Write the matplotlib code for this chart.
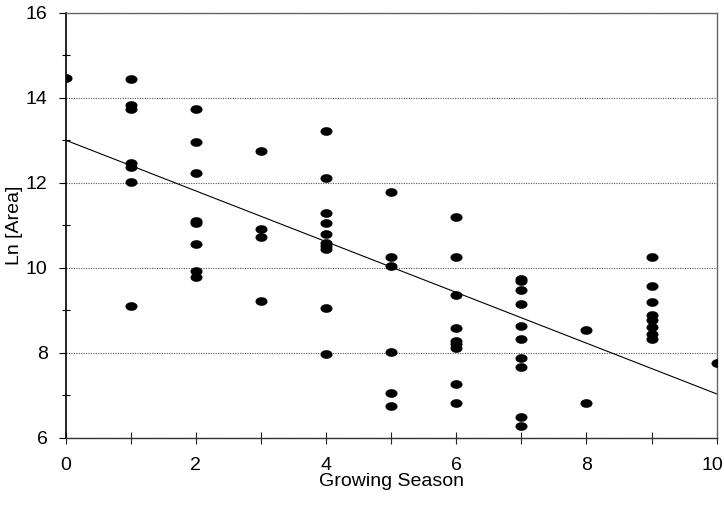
"""Ln[Area] vs growing season scatter with linear trend."""

import numpy as np
import matplotlib

matplotlib.use("Agg")
import matplotlib.pyplot as plt
from matplotlib.ticker import FixedLocator, FuncFormatter
from matplotlib.transforms import ScaledTranslation

# values
season_0 = [14.46]
season_1 = [14.45, 13.83, 13.73, 12.47, 12.38, 12.02, 9.11]
season_2 = [13.73, 12.95, 12.23, 11.10, 11.06, 10.55, 9.92, 9.77]
season_3 = [12.75, 10.90, 10.72, 9.21]
season_4 = [13.22, 12.12, 11.29, 11.04, 10.79, 10.57, 10.52, 10.45, 9.04, 7.97]
season_5 = [11.77, 10.25, 10.05, 8.01, 7.04, 6.75]
season_6 = [11.20, 10.25, 9.36, 8.58, 8.28, 8.20, 8.10, 7.26, 6.82]
season_7 = [9.74, 9.68, 9.48, 9.14, 8.63, 8.32, 7.88, 7.67, 6.49, 6.28]
season_8 = [8.53, 6.82]
season_9 = [10.25, 9.58, 9.19, 8.88, 8.77, 8.61, 8.43, 8.33]
season_10 = [7.76]

seasons = [season_0, season_1, season_2, season_3, season_4, season_5,
           season_6, season_7, season_8, season_9, season_10]

trend_x = [0, 10]
trend_y = [13.0, 7.03]


def main() -> int:
    plt.rcParams["font.family"] = ["Liberation Sans", "DejaVu Sans"]

    xs = []
    ys = []
    for season, vals in enumerate(seasons):
        xs.extend([season] * len(vals))
        ys.extend(vals)

    # slightly flattened dot, like the original plot symbols
    t = np.linspace(0, 2 * np.pi, 40)
    ellipse = np.column_stack([np.cos(t), 0.72 * np.sin(t)])

    fig = plt.figure(figsize=(7.24, 5.05), dpi=100)
    ax = fig.add_axes([0.0907, 0.1333, 0.8992, 0.8416])

    ax.scatter(xs, ys, marker=ellipse, s=75, color="black", linewidths=0, zorder=3)
    ax.plot(trend_x, trend_y, color="black", linewidth=0.8, zorder=2)

    ax.set_xlim(0, 10)
    ax.set_ylim(6, 16)

    ax.xaxis.set_major_locator(FixedLocator(range(0, 11)))
    ax.xaxis.set_major_formatter(FuncFormatter(lambda v, p: f"{int(v)}" if int(v) % 2 == 0 else ""))
    ax.yaxis.set_major_locator(FixedLocator(range(6, 17, 2)))
    ax.yaxis.set_minor_locator(FixedLocator(range(7, 16, 2)))

    ax.tick_params(axis="x", direction="inout", length=8, width=0.8, pad=10,
                   labelsize=14, colors="#222222", labelcolor="black")
    ax.tick_params(axis="y", which="major", direction="out", length=5, width=0.8,
                   pad=8, labelsize=14, labelcolor="black")
    ax.tick_params(axis="y", which="minor", direction="inout", length=6, width=0.8)

    ax.grid(axis="y", which="major", linestyle=(0, (1, 1.2)), color="#555555", linewidth=0.8)
    ax.set_axisbelow(True)

    ax.spines["left"].set_color("black")
    ax.spines["left"].set_linewidth(1.2)
    ax.spines["bottom"].set_color("#333333")
    ax.spines["bottom"].set_linewidth(1.0)
    ax.spines["top"].set_color("#666666")
    ax.spines["top"].set_linewidth(1.0)
    ax.spines["right"].set_color("#666666")
    ax.spines["right"].set_linewidth(1.0)

    ax.set_xlabel("Growing Season", fontsize=14, labelpad=-1)
    ax.set_ylabel("Ln [Area]", fontsize=14)
    ax.yaxis.set_label_coords(-0.066, 0.5)

    # keep the last x label inside the picture, as in the original
    fig.canvas.draw()
    last = ax.get_xticklabels()[-1]
    last.set_transform(last.get_transform() + ScaledTranslation(-0.04, 0, fig.dpi_scale_trans))

    fig.savefig("out.png", dpi=100)
    plt.close(fig)
    return 0


if __name__ == "__main__":
    raise SystemExit(main())
